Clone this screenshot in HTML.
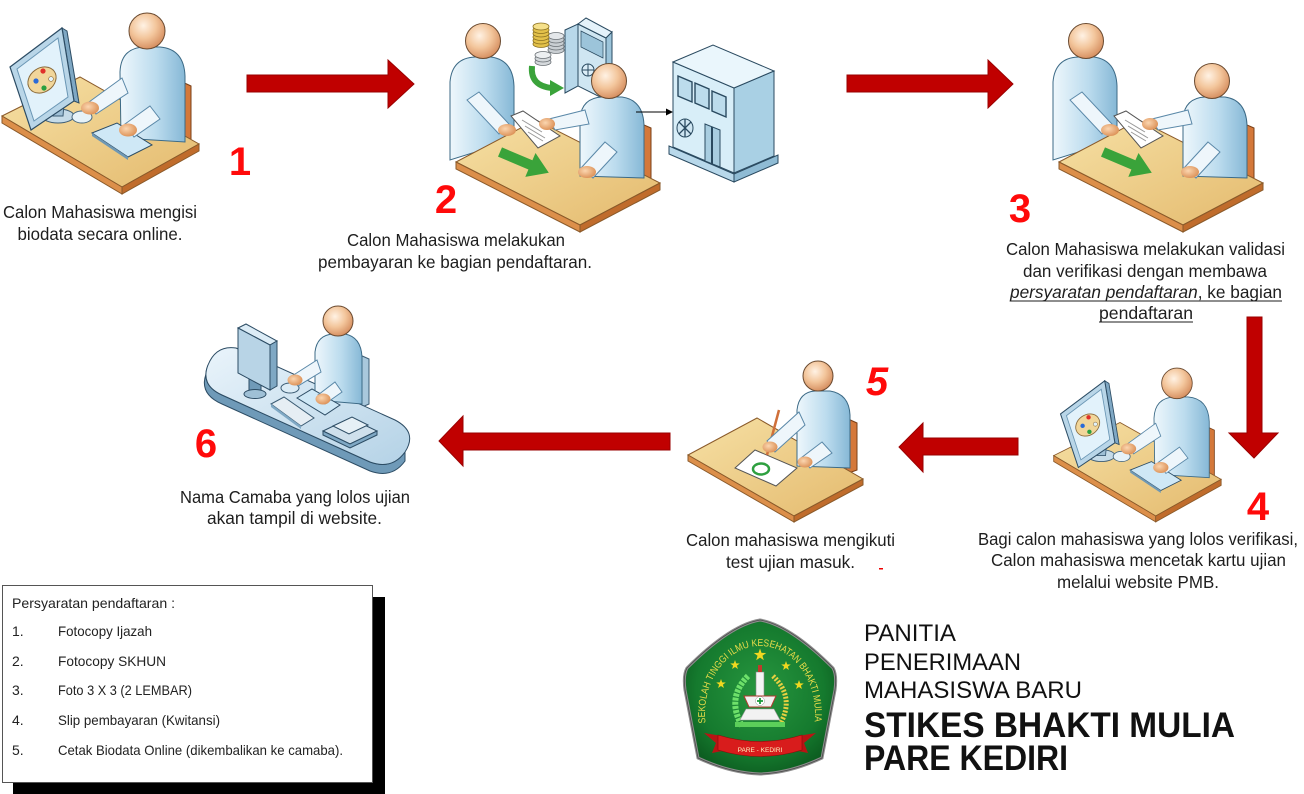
<!DOCTYPE html>
<html><head><meta charset="utf-8"><style>
html,body{margin:0;padding:0;background:#fff;}
svg{display:block;}
text{font-family:"Liberation Sans",Arial,sans-serif;}
</style></head><body>
<svg width="1304" height="794" viewBox="0 0 1304 794" xmlns="http://www.w3.org/2000/svg">
<defs>
 <linearGradient id="cloth" x1="0" y1="0" x2="1" y2="0">
  <stop offset="0" stop-color="#eef7fc"/><stop offset="0.55" stop-color="#bcdcee"/><stop offset="1" stop-color="#86b8d6"/>
 </linearGradient>
 <radialGradient id="skin" cx="0.4" cy="0.35" r="0.7">
  <stop offset="0" stop-color="#fff2e4"/><stop offset="0.5" stop-color="#f3c69c"/><stop offset="1" stop-color="#d3895a"/>
 </radialGradient>
 <radialGradient id="hand" cx="0.4" cy="0.4" r="0.7">
  <stop offset="0" stop-color="#fbd6b0"/><stop offset="1" stop-color="#d98a4e"/>
 </radialGradient>
 <linearGradient id="deskG" x1="0" y1="0" x2="1" y2="1">
  <stop offset="0" stop-color="#f6e0a4"/><stop offset="1" stop-color="#e4ba6e"/>
 </linearGradient>
 <linearGradient id="blueDesk" x1="0" y1="0" x2="1" y2="1">
  <stop offset="0" stop-color="#eaf4fb"/><stop offset="1" stop-color="#b4d2e6"/>
 </linearGradient>
 <radialGradient id="shieldG" cx="0.5" cy="0.45" r="0.6">
  <stop offset="0" stop-color="#27963f"/><stop offset="0.7" stop-color="#157a2e"/><stop offset="1" stop-color="#0c5a1f"/>
 </radialGradient>
 <path id="star" d="M0,-1 L0.235,-0.324 L0.951,-0.309 L0.38,0.124 L0.588,0.809 L0,0.4 L-0.588,0.809 L-0.38,0.124 L-0.951,-0.309 L-0.235,-0.324 Z"/>
 <path id="arc" d="M 705.6,724 A 55 68 0 1 1 814.4,724" fill="none"/>

 <g id="ws">
  <path d="M178,80 L191,86 L191,142 L178,148 Z" fill="#d4783a" stroke="#7a4018"/>
  <path d="M2,116 L80,77 L199,144 L122,187 Z" fill="url(#deskG)" stroke="#8a5a2a"/>
  <path d="M2,116 L122,187 L122,194 L2,123 Z" fill="#dc8f4a" stroke="#8a5a2a"/>
  <path d="M122,187 L199,144 L199,151 L122,194 Z" fill="#c06c2c" stroke="#8a5a2a"/>
  <ellipse cx="58" cy="116" rx="16" ry="7" fill="#c5dbe8" stroke="#3c5c74"/>
  <path d="M52,104 L64,104 L63,116 L53,116 Z" fill="#9fc0d6" stroke="#3c5c74"/>
  <path d="M62,28 L67,31 L79,103 L74,101 Z" fill="#7fa8c4" stroke="#2c4c64"/>
  <path d="M10,67 L62,28 L74,101 L31,130 Z" fill="#b9d6e8" stroke="#2c4c64" stroke-width="1.2"/>
  <path d="M17,69 L58,38 L68,97 L34,121 Z" fill="#e2f2fb" stroke="#6a96b4"/>
  <ellipse cx="42" cy="80" rx="15" ry="12" transform="rotate(-35 42 80)" fill="#f1d69a" stroke="#8a6a3a"/>
  <circle cx="43" cy="71" r="2.6" fill="#e0302a"/>
  <circle cx="36" cy="81" r="2.6" fill="#2a6ad8"/>
  <circle cx="44" cy="88" r="2.6" fill="#2aa040"/>
  <circle cx="51" cy="79" r="2.4" fill="#e2f2fb" stroke="#8a6a3a" stroke-width="0.6"/>
  <path d="M121,138 L120,72 Q121,48 144,47 L160,47 Q184,49 185,76 L185,142 Z" fill="url(#cloth)" stroke="#3c6a86"/>
  <circle cx="147" cy="31" r="18" fill="url(#skin)" stroke="#6a4a30"/>
  <ellipse cx="82" cy="117" rx="10" ry="6" fill="#e6f2f8" stroke="#4a6a80"/>
  <path d="M92,133 L117,123 L152,145 L128,157 Z" fill="#cfe8f6" stroke="#2c4c64"/>
  <path d="M92,133 L128,157 L128,160 L92,136 Z" fill="#6f98b4"/>
  <path d="M122,78 L128,93 L96,114 L89,102 Z" fill="#eef6fb" stroke="#5a88a8"/>
  <ellipse cx="90" cy="108" rx="9" ry="6.5" fill="url(#hand)"/>
  <path d="M150,106 L160,119 L134,137 L125,124 Z" fill="#eef6fb" stroke="#5a88a8"/>
  <ellipse cx="128" cy="130" rx="9" ry="6.5" fill="url(#hand)"/>
 </g>

 <g id="meet">
  <path d="M1240,122 L1254,128 L1254,178 L1240,182 Z" fill="#d4783a" stroke="#7a4018"/>
  <path d="M1053,160 L1053,82 Q1055,58 1078,57 L1094,57 Q1116,60 1117,86 L1117,140 Z" fill="url(#cloth)" stroke="#3c6a86"/>
  <circle cx="1086" cy="41" r="17.5" fill="url(#skin)" stroke="#6a4a30"/>
  <path d="M1059,162 L1139,120 L1263,183 L1183,225 Z" fill="url(#deskG)" stroke="#8a5a2a"/>
  <path d="M1059,162 L1183,225 L1183,232 L1059,169 Z" fill="#dc8f4a" stroke="#8a5a2a"/>
  <path d="M1183,225 L1263,183 L1263,190 L1183,232 Z" fill="#c06c2c" stroke="#8a5a2a"/>
  <path d="M1183,176 L1183,118 Q1185,98 1205,97 L1225,97 Q1246,100 1247,125 L1247,178 Z" fill="url(#cloth)" stroke="#3c6a86"/>
  <circle cx="1212" cy="81" r="17.5" fill="url(#skin)" stroke="#6a4a30"/>
  <path d="M1114,116 L1126,111 L1163,136 L1141,148 Z" fill="#fff" stroke="#555"/>
  <path d="M1125,120 L1145,132 M1128,126 L1148,138 M1131,132 L1146,141" stroke="#999" stroke-width="1"/>
  <path d="M1070,100 L1082,92 L1112,124 L1102,134 Z" fill="#eef6fb" stroke="#5a88a8"/>
  <ellipse cx="1110" cy="130" rx="9" ry="6" fill="url(#hand)"/>
  <path d="M1188,110 L1192,124 L1158,130 L1152,119 Z" fill="#eef6fb" stroke="#5a88a8"/>
  <ellipse cx="1150" cy="124" rx="8" ry="6" fill="url(#hand)"/>
  <path d="M1208,142 L1220,152 L1196,178 L1184,168 Z" fill="#eef6fb" stroke="#5a88a8"/>
  <ellipse cx="1190" cy="172" rx="9" ry="6" fill="url(#hand)"/>
  <polygon points="1105,147.4 1135.4,160.3 1138.5,153 1151.8,172.7 1128.3,176.9 1131.4,169.5 1101,156.6" fill="#3aa33a"/>
 </g>
</defs>

<use href="#ws"/>
<use href="#ws" transform="translate(1052,357) scale(0.85)"/>

<g stroke-width="0.8">
 <ellipse cx="556" cy="50" rx="8" ry="3.5" fill="#c9ced2" stroke="#6a7075"/>
 <ellipse cx="556" cy="46.5" rx="8" ry="3.5" fill="#c9ced2" stroke="#6a7075"/>
 <ellipse cx="556" cy="43" rx="8" ry="3.5" fill="#c9ced2" stroke="#6a7075"/>
 <ellipse cx="556" cy="39.5" rx="8" ry="3.5" fill="#c9ced2" stroke="#6a7075"/>
 <ellipse cx="556" cy="36" rx="8" ry="3.5" fill="#e4e7ea" stroke="#6a7075"/>
 <ellipse cx="541" cy="44" rx="8" ry="3.5" fill="#e3c14a" stroke="#8a7020"/>
 <ellipse cx="541" cy="40.5" rx="8" ry="3.5" fill="#e3c14a" stroke="#8a7020"/>
 <ellipse cx="541" cy="37" rx="8" ry="3.5" fill="#e3c14a" stroke="#8a7020"/>
 <ellipse cx="541" cy="33.5" rx="8" ry="3.5" fill="#e3c14a" stroke="#8a7020"/>
 <ellipse cx="541" cy="30" rx="8" ry="3.5" fill="#e3c14a" stroke="#8a7020"/>
 <ellipse cx="541" cy="26.5" rx="8" ry="3.5" fill="#f5e08a" stroke="#8a7020"/>
 <ellipse cx="543" cy="62" rx="8" ry="3.5" fill="#d5d9dc" stroke="#6a7075"/>
 <ellipse cx="543" cy="58.5" rx="8" ry="3.5" fill="#d5d9dc" stroke="#6a7075"/>
 <ellipse cx="543" cy="55" rx="8" ry="3.5" fill="#eceff1" stroke="#6a7075"/>
</g>
<path d="M532,66 Q530,86 552,88" stroke="#3aa33a" stroke-width="6" fill="none"/>
<polygon points="550,80 564,88 550,96" fill="#3aa33a"/>
<path d="M565,30 L578,24 L578,86 L565,93 Z" fill="#b8d8ea" stroke="#2a4a60"/>
<path d="M578,24 L606,38 L606,100 L578,86 Z" fill="#cfe6f2" stroke="#2a4a60"/>
<path d="M578,24 L586,18 L612,32 L606,38 Z" fill="#e4f2fa" stroke="#2a4a60"/>
<path d="M606,38 L612,32 L612,94 L606,100 Z" fill="#9cc4da" stroke="#2a4a60"/>
<path d="M581,31 L603,42 L603,58 L581,47 Z" fill="#9cc4da" stroke="#2a4a60" stroke-width="0.7"/>
<circle cx="588" cy="70" r="6" fill="#dceef8" stroke="#2a4a60"/>
<path d="M582,70 L594,70 M588,64 L588,76" stroke="#2a4a60" stroke-width="1"/>

<use href="#meet"/>
<use href="#meet" transform="translate(-603,0)"/>

<line x1="636" y1="112" x2="667" y2="112" stroke="#000" stroke-width="1"/>
<polygon points="666,108.5 673,112 666,115.5" fill="#000"/>
<path d="M669,146 L734,174 L734,182 L669,154 Z" fill="#b8d8ea" stroke="#2a4a60"/>
<path d="M734,174 L778,155 L778,163 L734,182 Z" fill="#8fbbd4" stroke="#2a4a60"/>
<path d="M673,62 L734,88 L734,173 L673,147 Z" fill="#d8eef8" stroke="#2a4a60"/>
<path d="M734,88 L774,71 L774,156 L734,173 Z" fill="#a9d0e4" stroke="#2a4a60"/>
<path d="M673,62 L713,45 L774,71 L734,88 Z" fill="#eaf6fc" stroke="#2a4a60"/>
<path d="M678,76 L692,82 L692,102 L678,96 Z" fill="#bcdcec" stroke="#2a4a60" stroke-width="1.4"/>
<path d="M695,83 L709,89 L709,109 L695,103 Z" fill="#bcdcec" stroke="#2a4a60" stroke-width="1.4"/>
<path d="M712,91 L726,97 L726,117 L712,111 Z" fill="#bcdcec" stroke="#2a4a60" stroke-width="1.4"/>
<ellipse cx="685" cy="128" rx="8" ry="9" fill="#cfe6f2" stroke="#2a4a60"/>
<path d="M679,122 L691,134 M691,122 L679,134 M685,119 L685,137" stroke="#2a4a60" stroke-width="1.3"/>
<path d="M705,124 L720,130 L720,167 L705,161 Z" fill="#a8cde0" stroke="#2a4a60"/>
<path d="M712,127 L712,164" stroke="#2a4a60" stroke-width="2"/>

<path d="M846,418 L857,423 L857,470 L846,474 Z" fill="#d4783a" stroke="#7a4018"/>
<path d="M688,455 L757,418 L863,479 L794,516 Z" fill="url(#deskG)" stroke="#8a5a2a"/>
<path d="M688,455 L794,516 L794,522 L688,461 Z" fill="#dc8f4a" stroke="#8a5a2a"/>
<path d="M794,516 L863,479 L863,485 L794,522 Z" fill="#c06c2c" stroke="#8a5a2a"/>
<path d="M735,468 L755,450 L797,468 L776,486 Z" fill="#fff" stroke="#555"/>
<ellipse cx="761" cy="469" rx="8" ry="5.5" fill="none" stroke="#2fa040" stroke-width="2.5"/>
<path d="M797,466 L797,410 Q799,392 815,391 L830,391 Q849,394 850,415 L850,468 Z" fill="url(#cloth)" stroke="#3c6a86"/>
<circle cx="818" cy="376" r="15" fill="url(#skin)" stroke="#6a4a30"/>
<line x1="779" y1="410" x2="767" y2="455" stroke="#d0703a" stroke-width="2.5"/>
<path d="M799,412 L805,425 L775,452 L767,441 Z" fill="#eef6fb" stroke="#5a88a8"/>
<ellipse cx="770" cy="447" rx="7.5" ry="5.5" fill="url(#hand)"/>
<path d="M822,442 L832,453 L810,468 L801,458 Z" fill="#eef6fb" stroke="#5a88a8"/>
<ellipse cx="805" cy="462" rx="7.5" ry="5.5" fill="url(#hand)"/>

<path d="M360,355 L369,359 L369,404 L360,408 Z" fill="#a9c8dc" stroke="#3c5c74"/>
<path d="M208,365 Q200,385 222,395 L370,462 Q392,470 405,452 L405,461 Q392,479 370,471 L222,404 Q199,394 206,374 Z" fill="#6f9ab8" stroke="#2c4c64"/>
<path d="M236,348 L395,420 Q418,432 405,452 Q392,470 370,462 L222,395 Q200,385 208,365 Q216,345 236,348 Z" fill="url(#blueDesk)" stroke="#2c4c64"/>
<path d="M315,400 L315,352 Q317,335 333,334 L345,334 Q361,337 362,357 L362,404 Z" fill="url(#cloth)" stroke="#3c6a86"/>
<circle cx="338" cy="321" r="15" fill="url(#skin)" stroke="#6a4a30"/>
<path d="M249,372 L261,372 L261,392 L249,392 Z" fill="#6f9ab8" stroke="#2c4c64"/>
<ellipse cx="255" cy="394" rx="11" ry="4.5" fill="#9fc0d6" stroke="#2c4c64"/>
<path d="M238,328 L246,324 L277,341 L270,345 Z" fill="#dcecf6" stroke="#2c4c64"/>
<path d="M270,345 L277,341 L277,386 L270,390 Z" fill="#7fa8c4" stroke="#2c4c64"/>
<path d="M238,328 L270,345 L270,390 L238,373 Z" fill="#b8d4e6" stroke="#2c4c64"/>
<path d="M271,404 L284,397 L314,418 L301,426 Z" fill="#e6eef4" stroke="#3c5c74"/>
<path d="M271,404 L301,426 L301,429 L271,407 Z" fill="#7fa8c4"/>
<path d="M297,398 L312,389 L340,405 L325,415 Z" fill="#cfe8f6" stroke="#2c4c64"/>
<path d="M323,431 L350,418 L377,431 L350,444 Z" fill="#cfe0ec" stroke="#2c4c64"/>
<path d="M323,431 L350,444 L377,431 L377,435 L350,448 L323,435 Z" fill="#7fa8c4" stroke="#2c4c64"/>
<path d="M333,426 L352,417 L368,425 L349,434 Z" fill="#e6f0f6" stroke="#2c4c64"/>
<ellipse cx="290" cy="388" rx="9" ry="5" fill="#dcecf6" stroke="#3c5c74"/>
<path d="M317,360 L321,372 L298,386 L292,376 Z" fill="#eef6fb" stroke="#5a88a8"/>
<ellipse cx="295" cy="380" rx="7.5" ry="5.5" fill="url(#hand)"/>
<path d="M335,382 L342,392 L325,404 L318,395 Z" fill="#eef6fb" stroke="#5a88a8"/>
<ellipse cx="323" cy="399" rx="7.5" ry="5.5" fill="url(#hand)"/>

<g fill="#c00000" stroke="#9a0000" stroke-width="1">
 <polygon points="247,75 388,75 388,60 414,84 388,108 388,92 247,92"/>
 <polygon points="847,75 988,75 988,60 1013,84 988,108 988,92 847,92"/>
 <polygon points="1247,317 1262,317 1262,433 1278,433 1254,458 1229,433 1247,433"/>
 <polygon points="1018,438 923,438 923,423 899,447 923,472 923,455 1018,455"/>
 <polygon points="670,433 463,433 463,416 439,441 463,466 463,450 670,450"/>
</g>

<g fill="#ff0a0a" font-weight="bold" font-size="40" text-anchor="middle">
 <text x="240" y="175">1</text>
 <text x="446" y="213">2</text>
 <text x="1020" y="222">3</text>
 <text x="1258" y="520">4</text>
 <text x="877" y="395" font-style="italic">5</text>
 <text x="206" y="457">6</text>
</g>
<rect x="879" y="568" width="4" height="1.5" fill="#e00"/>

<g fill="#1e1e1e" font-size="17.5" text-anchor="middle">
 <text x="100" y="218" textLength="194" lengthAdjust="spacingAndGlyphs">Calon Mahasiswa mengisi</text>
 <text x="100" y="240" textLength="165" lengthAdjust="spacingAndGlyphs">biodata secara online.</text>
 <text x="456" y="246" textLength="218" lengthAdjust="spacingAndGlyphs">Calon Mahasiswa melakukan</text>
 <text x="455" y="268" textLength="274" lengthAdjust="spacingAndGlyphs">pembayaran ke bagian pendaftaran.</text>
 <text x="1145.5" y="255" textLength="279" lengthAdjust="spacingAndGlyphs">Calon Mahasiswa melakukan validasi</text>
 <text x="1145" y="277" textLength="244" lengthAdjust="spacingAndGlyphs">dan verifikasi dengan membawa</text>
 <text x="1146" y="298" textLength="272" lengthAdjust="spacingAndGlyphs"><tspan font-style="italic">persyaratan pendaftaran</tspan>, ke bagian</text>
 <text x="1146" y="319" textLength="94" lengthAdjust="spacingAndGlyphs">pendaftaran</text>
 <text x="1138" y="545" textLength="320" lengthAdjust="spacingAndGlyphs">Bagi calon mahasiswa yang lolos verifikasi,</text>
 <text x="1138.5" y="566" textLength="295" lengthAdjust="spacingAndGlyphs">Calon mahasiswa mencetak kartu ujian</text>
 <text x="1138" y="588" textLength="162" lengthAdjust="spacingAndGlyphs">melalui website PMB.</text>
 <text x="790.5" y="546" textLength="209" lengthAdjust="spacingAndGlyphs">Calon mahasiswa mengikuti</text>
 <text x="790.5" y="568" textLength="129" lengthAdjust="spacingAndGlyphs">test ujian masuk.</text>
 <text x="295" y="503" textLength="230" lengthAdjust="spacingAndGlyphs">Nama Camaba yang lolos ujian</text>
 <text x="294.5" y="524" textLength="175" lengthAdjust="spacingAndGlyphs">akan tampil di website.</text>
</g>
<line x1="1010" y1="301" x2="1282" y2="301" stroke="#1e1e1e" stroke-width="1"/>
<line x1="1099" y1="322" x2="1193" y2="322" stroke="#1e1e1e" stroke-width="1"/>

<rect x="13" y="597" width="372" height="200" fill="#000"/>
<rect x="2.5" y="585.5" width="370" height="197" fill="#fff" stroke="#555"/>
<g fill="#222" font-size="14">
 <text x="12" y="608" textLength="163" lengthAdjust="spacingAndGlyphs">Persyaratan pendaftaran :</text>
 <text x="12" y="636">1.</text>
 <text x="58" y="636" textLength="94" lengthAdjust="spacingAndGlyphs">Fotocopy Ijazah</text>
 <text x="12" y="666">2.</text>
 <text x="58" y="666" textLength="108" lengthAdjust="spacingAndGlyphs">Fotocopy SKHUN</text>
 <text x="12" y="695">3.</text>
 <text x="58" y="695" textLength="134" lengthAdjust="spacingAndGlyphs">Foto 3 X 3 (2 LEMBAR)</text>
 <text x="12" y="725">4.</text>
 <text x="58" y="725" textLength="162" lengthAdjust="spacingAndGlyphs">Slip pembayaran (Kwitansi)</text>
 <text x="12" y="755">5.</text>
 <text x="58" y="755" textLength="285" lengthAdjust="spacingAndGlyphs">Cetak Biodata Online (dikembalikan ke camaba).</text>
</g>

<path d="M760,620 Q790,625 833,668 Q837,675 835,690 L822,758 Q790,773 760,774 Q730,773 698,758 L685,690 Q683,675 687,668 Q730,625 760,620 Z" fill="url(#shieldG)" stroke="#8e8e8e" stroke-width="3"/>
<path d="M760,620 Q790,625 833,668 Q837,675 835,690 L822,758 Q790,773 760,774 Q730,773 698,758 L685,690 Q683,675 687,668 Q730,625 760,620 Z" fill="none" stroke="#4a4a4a" stroke-width="0.8"/>
<text font-family="Liberation Serif, serif" font-size="10" fill="#e9dc4a"><textPath href="#arc" startOffset="1" textLength="210" lengthAdjust="spacingAndGlyphs">SEKOLAH TINGGI ILMU KESEHATAN BHAKTI MULIA</textPath></text>
<g fill="#f0d820">
 <use href="#star" transform="translate(760,655) scale(6.5)"/>
 <use href="#star" transform="translate(735,665) scale(5)"/>
 <use href="#star" transform="translate(786,666) scale(5)"/>
 <use href="#star" transform="translate(721,684) scale(5)"/>
 <use href="#star" transform="translate(799,685) scale(5)"/>
</g>
<path d="M748,676 Q726,698 742,726" stroke="#6ee06a" stroke-width="6" fill="none" stroke-dasharray="3 1.2"/>
<path d="M773,676 Q796,698 779,726" stroke="#e8d040" stroke-width="5" fill="none" stroke-dasharray="2 1.5"/>
<rect x="756" y="672" width="8" height="26" fill="#f4f4f4" stroke="#888" stroke-width="0.6"/>
<rect x="758" y="665" width="4" height="7" fill="#c0392b"/>
<polygon points="744,696 776,696 771,707 749,707" fill="#f2f2f2" stroke="#b03a2e" stroke-width="1"/>
<circle cx="760" cy="701" r="4.5" fill="#fff" stroke="#999" stroke-width="0.5"/>
<path d="M760,698 L760,704 M757,701 L763,701" stroke="#1a9a3a" stroke-width="1.8"/>
<polygon points="746,709 774,709 780,720 740,720" fill="#f2f2f2" stroke="#999" stroke-width="0.6"/>
<rect x="735" y="722" width="50" height="5" fill="#5ccf5a"/>
<polygon points="704,733 722,736 722,751 712,753 716,743" fill="#b81414"/>
<polygon points="816,733 798,736 798,751 808,753 804,743" fill="#b81414"/>
<path d="M718,735 Q760,748 802,735 L802,750 Q760,763 718,750 Z" fill="#d81c1c" stroke="#8a0a0a" stroke-width="0.6"/>
<text x="760" y="752" font-family="Liberation Serif, serif" font-size="6.5" fill="#fff3c0" text-anchor="middle">PARE - KEDIRI</text>

<g fill="#111">
 <text x="864" y="641" font-size="24" textLength="92" lengthAdjust="spacingAndGlyphs">PANITIA</text>
 <text x="864" y="670" font-size="24" textLength="157" lengthAdjust="spacingAndGlyphs">PENERIMAAN</text>
 <text x="864" y="698" font-size="24" textLength="218" lengthAdjust="spacingAndGlyphs">MAHASISWA BARU</text>
 <text x="864" y="737" font-size="35" font-weight="bold" textLength="371" lengthAdjust="spacingAndGlyphs">STIKES BHAKTI MULIA</text>
 <text x="864" y="770" font-size="35" font-weight="bold" textLength="204" lengthAdjust="spacingAndGlyphs">PARE KEDIRI</text>
</g>
</svg>
</body></html>
